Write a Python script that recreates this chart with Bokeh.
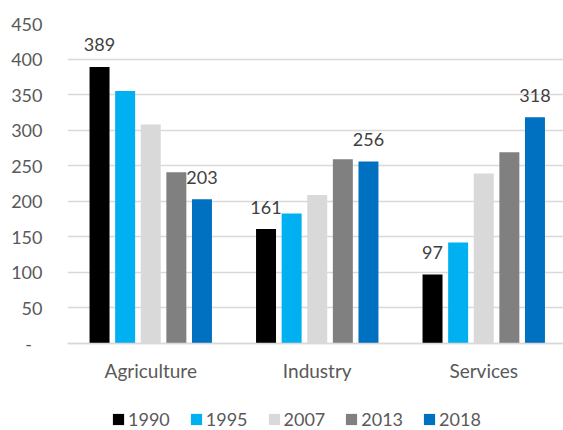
from bokeh.plotting import figure
from bokeh.models import Range1d, FixedTicker, Legend, LegendItem, ColumnDataSource
from bokeh.core.properties import value
from bokeh.embed import file_html
from bokeh.resources import INLINE

# Employment by sector (thousands)
sectors = ["Agriculture", "Industry", "Services"]
years = ["1990", "1995", "2007", "2013", "2018"]
v1990 = [389, 161, 97]
v1995 = [355, 183, 142]
v2007 = [308, 209, 239]
v2013 = [241, 259, 269]
v2018 = [203, 256, 318]
colors = ["#000000", "#00B0F0", "#D9D9D9", "#808080", "#0070C0"]
y_ticks = [0, 50, 100, 150, 200, 250, 300, 350, 400, 450]
labelled_years = ["1990", "2018"]

series = dict(zip(years, [v1990, v1995, v2007, v2013, v2018]))

FONT = "Lato"
GRID = "#D9D9D9"

# The frame runs to the bottom edge: the space under zero holds the
# category labels (axis fixed at y=0) and the legend row.
p = figure(width=563, height=430, output_backend="svg", toolbar_location=None,
           x_range=Range1d(0, 2.979), y_range=Range1d(-122.3, 450),
           min_border_left=67, min_border_right=0, min_border_top=23,
           min_border_bottom=0)
p.outline_line_color = None
p.background_fill_color = "white"
p.border_fill_color = "white"

group_step = 0.1538
bar_w = 0.12
centers = [i + 0.5 for i in range(len(sectors))]

renderers = {}
for j, (yr, col) in enumerate(zip(years, colors)):
    xs = [c + (j - 2) * group_step for c in centers]
    src = ColumnDataSource(dict(x=xs, top=series[yr], label=[str(v) for v in series[yr]]))
    r = p.vbar(x="x", top="top", width=bar_w, bottom=0, source=src,
               fill_color=col, line_color=None)
    renderers[yr] = r
    if yr in labelled_years:
        p.text(x="x", y="top", text="label", source=src,
               text_font=value(FONT), text_font_size="18px", text_color="#404040",
               text_align="center", text_baseline="alphabetic", y_offset=-22)

# axes
p.xaxis.fixed_location = 0
p.xaxis.ticker = FixedTicker(ticks=centers)
p.xaxis.major_label_overrides = {c: s for c, s in zip(centers, sectors)}
p.xaxis.major_label_text_font = FONT
p.xaxis.major_label_text_font_size = "19px"
p.xaxis.major_label_text_color = "#595959"
p.xaxis.major_label_standoff = 15
p.xaxis.major_tick_out = 0
p.xaxis.major_tick_in = 0
p.xaxis.major_tick_line_color = None
p.xaxis.minor_tick_line_color = None
p.xaxis.axis_line_color = GRID
p.xaxis.axis_line_width = 1.5

p.yaxis.ticker = FixedTicker(ticks=y_ticks)
p.yaxis.major_label_overrides = {0: "-\u2007"}
p.yaxis.major_label_text_font = FONT
p.yaxis.major_label_text_font_size = "18px"
p.yaxis.major_label_text_color = "#595959"
p.yaxis.major_label_standoff = 25
p.yaxis.major_tick_out = 0
p.yaxis.major_tick_in = 0
p.yaxis.major_tick_line_color = None
p.yaxis.minor_tick_line_color = None
p.yaxis.axis_line_color = None

p.xgrid.grid_line_color = None
p.ygrid.ticker = FixedTicker(ticks=y_ticks)
p.ygrid.grid_line_color = GRID
p.ygrid.grid_line_width = 1.5

# legend row along the bottom
legend = Legend(items=[LegendItem(label=yr, renderers=[renderers[yr]]) for yr in years],
                orientation="horizontal", location=(44, 0),
                padding=0, margin=0, spacing=19,
                glyph_width=14, glyph_height=14, label_standoff=3,
                label_text_font=FONT, label_text_font_size="18px",
                label_text_color="#595959",
                background_fill_alpha=0, border_line_alpha=0)
p.add_layout(legend, "center")

open("out.html", "w").write(file_html(p, INLINE))
